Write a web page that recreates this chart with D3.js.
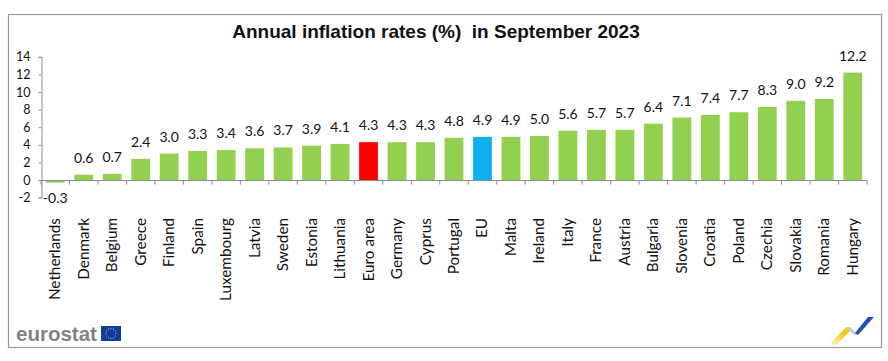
<!DOCTYPE html>
<html><head><meta charset="utf-8">
<script src="https://cdn.jsdelivr.net/npm/d3@7"></script>
<style>html,body{margin:0;padding:0;background:#fff}svg{display:block}text{font-family:Lato,sans-serif;fill:#111}</style>
</head><body><svg id="c" width="888" height="361"></svg>
<script>
const categories=["Netherlands","Denmark","Belgium","Greece","Finland","Spain","Luxembourg","Latvia","Sweden","Estonia","Lithuania","Euro area","Germany","Cyprus","Portugal","EU","Malta","Ireland","Italy","France","Austria","Bulgaria","Slovenia","Croatia","Poland","Czechia","Slovakia","Romania","Hungary"];
const values=[-0.3,0.6,0.7,2.4,3.0,3.3,3.4,3.6,3.7,3.9,4.1,4.3,4.3,4.3,4.8,4.9,4.9,5.0,5.6,5.7,5.7,6.4,7.1,7.4,7.7,8.3,9.0,9.2,12.2];
const yTicks=[-2,0,2,4,6,8,10,12,14];
const highlight={"Euro area":"#ff0000","EU":"#0fb0f0"};
const title="Annual inflation rates (%)  in September 2023";

const svg=d3.select("#c");
svg.append("rect").attr("x",8.5).attr("y",14.5).attr("width",873).attr("height",333).attr("fill","#fff").attr("stroke","#9a9a9a").attr("stroke-width",1.2);
svg.append("text").attr("x",436).attr("y",38).attr("text-anchor","middle").style("font-family","Liberation Sans").style("font-weight","700").style("font-size","19px").style("white-space","pre").text(title);

const x=d3.scaleBand().domain(categories).range([41,867]).paddingInner(0.34).paddingOuter(0.17);
const y=d3.scaleLinear().domain([-2,14]).range([197.6,56.8]);

svg.append("g").selectAll("rect").data(categories).join("rect")
 .attr("x",d=>x(d)).attr("width",x.bandwidth())
 .attr("y",(d,i)=>y(Math.max(0,values[i])))
 .attr("height",(d,i)=>Math.abs(y(values[i])-y(0)))
 .attr("fill",d=>highlight[d]||"#92d050");

const yAxis=d3.axisLeft(y).tickValues(yTicks).tickSize(3).tickPadding(8).tickFormat(d=>String(d));
const gy=svg.append("g").attr("transform","translate(41.5,0)").call(yAxis);
gy.selectAll("path,line").attr("stroke","#8c8c8c");
gy.selectAll("text").style("font-size","12.5px");

const bx=d3.scaleLinear().domain([0,categories.length]).range([41,867]);
const gx=svg.append("g").attr("transform",`translate(0,${y(0)+0.5})`);
gx.append("line").attr("x1",41).attr("x2",867).attr("stroke","#8c8c8c");
gx.selectAll(".t").data(d3.range(categories.length+1)).join("line").attr("class","t")
 .attr("x1",d=>bx(d)).attr("x2",d=>bx(d)).attr("y1",0).attr("y2",4).attr("stroke","#8c8c8c");

svg.append("g").selectAll("text").data(categories).join("text")
 .attr("x",d=>x(d)+x.bandwidth()/2).attr("y",(d,i)=>values[i]<0?y(values[i])+20:y(values[i])-12)
 .attr("text-anchor","middle").style("font-size","14px")
 .text((d,i)=>values[i].toFixed(1));

svg.append("g").selectAll("text").data(categories).join("text")
 .attr("transform",d=>`translate(${x(d)+x.bandwidth()/2+5},218) rotate(-90)`)
 .attr("text-anchor","end").style("font-size","15.3px").text(d=>d);

// logo
const logo=svg.append("g");
logo.append("text").attr("x",16).attr("y",341).style("font-family","Liberation Sans").style("font-weight","700").style("font-size","20.5px").style("fill","#7f8488").text("eurostat");
logo.append("rect").attr("x",101).attr("y",326).attr("width",20).attr("height",15).attr("fill","#0a3d9c");
logo.append("g").selectAll("circle").data(d3.range(12)).join("circle")
 .attr("cx",d=>111+5*Math.cos(d*Math.PI/6)).attr("cy",d=>333.5+5*Math.sin(d*Math.PI/6)).attr("r",0.6).attr("fill","#e8d44a");
const grad=svg.append("defs").append("linearGradient").attr("id","fade").attr("x1","0").attr("y1","1").attr("x2","1").attr("y2","0");
grad.append("stop").attr("offset","0").attr("stop-color","#fff6c8");
grad.append("stop").attr("offset","0.6").attr("stop-color","#f7c81a");
const poly=(pts,fill)=>logo.append("polygon").attr("points",pts).attr("fill",fill);
poly("830,344 846,327 850,327 852,329 836,345","url(#fade)");
poly("846,327 850,327 858,335 855,335 852,333","#c9c9c9");
poly("855,333 868,317 874,317 858,335","#1d4fb8");
</script></body></html>
